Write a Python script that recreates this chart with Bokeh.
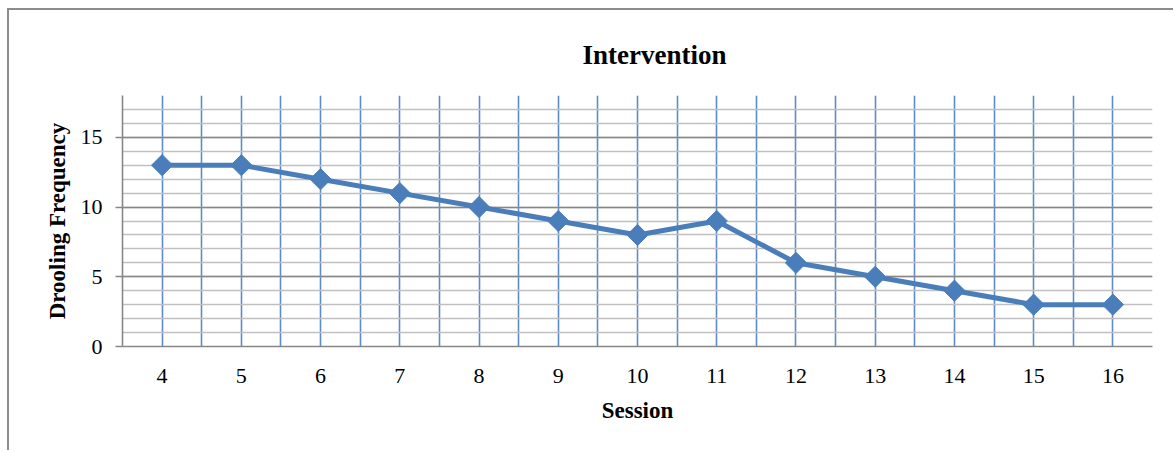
from bokeh.plotting import figure
from bokeh.models import FixedTicker, Grid, Title
from bokeh.embed import file_html
from bokeh.resources import INLINE
import math

sessions = [4, 5, 6, 7, 8, 9, 10, 11, 12, 13, 14, 15, 16]
drooling = [13, 13, 12, 11, 10, 9, 8, 9, 6, 5, 4, 3, 3]
y_ticks = [0, 5, 10, 15]
y_max = 18

FONT = "Liberation Serif"
BLUE = "#4a7ebb"

p = figure(width=1166, height=442, output_backend="svg", toolbar_location=None,
           x_range=(sessions[0] - 0.5, sessions[-1] + 0.5), y_range=(0, y_max),
           min_border_left=113, min_border_right=23, min_border_top=85,
           min_border_bottom=106,
           styles={"margin-left": "7px", "margin-top": "8px",
                   "border-left": "2px solid #8c8c8c", "border-top": "2px solid #8c8c8c"})
p.outline_line_color = None
p.background_fill_color = "white"
p.border_fill_color = "white"

t = Title(text="Intervention", align="left", offset=460, standoff=52,
          text_font=FONT, text_font_size="27px", text_font_style="bold", text_color="black")
p.add_layout(t, "above")

# grids
half_ticks = [s - 0.5 for s in sessions] + sessions + [sessions[-1] + 0.5]
p.xgrid.ticker = FixedTicker(ticks=half_ticks)
p.xgrid.grid_line_color = "#5b8cc8"
p.xgrid.grid_line_width = 1.6
p.ygrid.ticker = FixedTicker(ticks=list(range(0, y_max + 1)))
p.ygrid.grid_line_color = "#c0c0c0"
p.ygrid.grid_line_width = 1.6
major = Grid(dimension=1, ticker=FixedTicker(ticks=y_ticks[1:]),
             grid_line_color="#878787", grid_line_width=1.6)
p.add_layout(major)

# axes
p.xaxis.ticker = FixedTicker(ticks=sessions)
p.yaxis.ticker = FixedTicker(ticks=y_ticks)
for ax in (p.xaxis[0], p.yaxis[0]):
    ax.axis_line_color = "#878787"
    ax.axis_line_width = 1.6
    ax.major_tick_line_color = "#878787"
    ax.major_tick_line_width = 1.6
    ax.minor_tick_line_color = None
    ax.major_label_text_font = FONT
    ax.major_label_text_font_size = "22px"
    ax.major_label_text_color = "black"
    ax.axis_label_text_font = FONT
    ax.axis_label_text_font_style = "bold"
    ax.axis_label_text_color = "black"
    ax.axis_label_text_font_size = "23px"
p.xaxis.major_tick_out = 0
p.xaxis.major_tick_in = 0
p.xaxis.major_label_standoff = 22
p.xaxis.axis_label = "Session"
p.xaxis.axis_label_standoff = 12
p.yaxis.major_tick_out = 7
p.yaxis.major_tick_in = 0
p.yaxis.major_label_standoff = 13
p.yaxis.axis_label = "Drooling Frequency"
p.yaxis.axis_label_standoff = 8

p.line(sessions, drooling, line_color=BLUE, line_width=5)
p.scatter(sessions, drooling, marker="square", angle=math.pi / 4, size=15,
          fill_color=BLUE, line_color=BLUE)

open("out.html", "w").write(file_html(p, INLINE))
